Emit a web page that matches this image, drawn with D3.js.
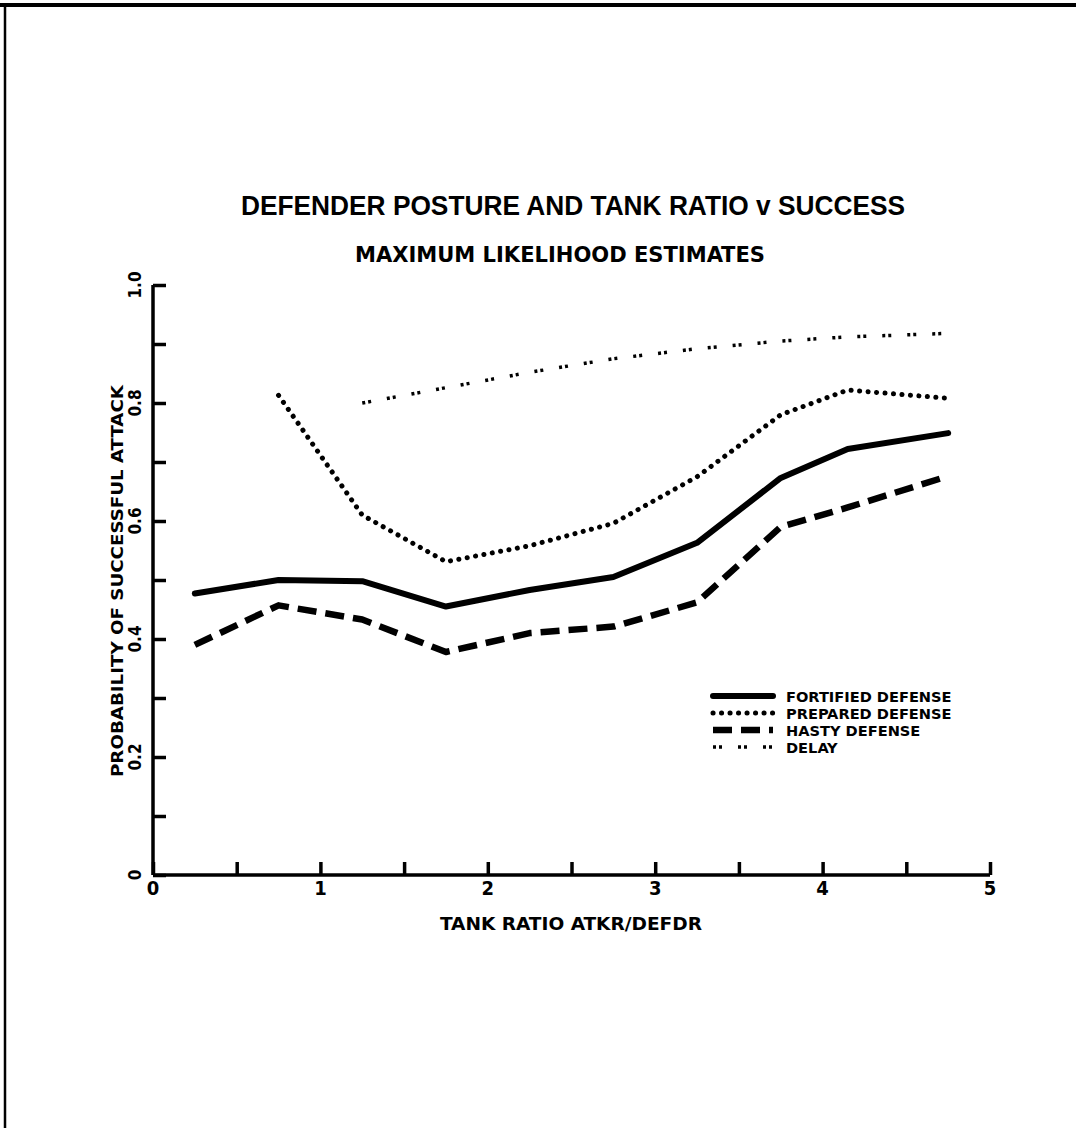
<!DOCTYPE html>
<html>
<head>
<meta charset="utf-8">
<script src="https://cdn.jsdelivr.net/npm/d3@7"></script>
<style>
  body { margin: 0; background: #fff; }
  text { fill: #000; }
</style>
</head>
<body>
<svg id="chart" width="1076" height="1128"></svg>
<script>
// x positions of the estimates (tank ratio groups)
var ratios = [0.25, 0.75, 1.25, 1.75, 2.25, 2.75, 3.25, 3.75, 4.15, 4.75];

// probability of successful attack, one array per defender posture
var fortified = [0.477, 0.500, 0.498, 0.455, 0.483, 0.505, 0.563, 0.673, 0.722, 0.749];
var prepared  = [null, 0.813, 0.610, 0.531, 0.558, 0.596, 0.675, 0.780, 0.822, 0.808];
var hasty     = [0.390, 0.457, 0.433, 0.378, 0.410, 0.421, 0.462, 0.590, 0.623, 0.676];
var delay     = [null, null, 0.800, 0.826, 0.852, 0.875, 0.892, 0.905, 0.912, 0.918];

var xTicks = [0, 1, 2, 3, 4, 5];
var yTicks = [0, 0.2, 0.4, 0.6, 0.8, 1.0];
var yTickLabels = ["0", "0.2", "0.4", "0.6", "0.8", "1.0"];

var seriesNames = ["FORTIFIED DEFENSE", "PREPARED DEFENSE", "HASTY DEFENSE", "DELAY"];

var svg = d3.select("#chart");

var x = d3.scaleLinear().domain([0, 5]).range([153, 990]);
var y = d3.scaleLinear().domain([0, 1]).range([875, 285]);

var condensed = "'DejaVu Sans Condensed', 'Liberation Sans Narrow', 'DejaVu Sans', sans-serif";

// page frame (top and left edge of the scanned sheet)
svg.append("line").attr("x1", 0).attr("x2", 1076).attr("y1", 5).attr("y2", 5)
    .attr("stroke", "#000").attr("stroke-width", 4);
svg.append("line").attr("x1", 5).attr("x2", 5).attr("y1", 5).attr("y2", 1128)
    .attr("stroke", "#000").attr("stroke-width", 2.5);

// titles
svg.append("text")
    .attr("x", 573).attr("y", 215)
    .attr("text-anchor", "middle")
    .attr("font-family", "'Liberation Sans', Arial, sans-serif")
    .attr("font-weight", "bold")
    .attr("font-size", 27)
    .attr("textLength", 664).attr("lengthAdjust", "spacingAndGlyphs")
    .text("DEFENDER POSTURE AND TANK RATIO v SUCCESS");

svg.append("text")
    .attr("x", 560).attr("y", 262)
    .attr("text-anchor", "middle")
    .attr("font-family", condensed)
    .attr("font-weight", "bold")
    .attr("font-size", 21)
    .attr("textLength", 410).attr("lengthAdjust", "spacingAndGlyphs")
    .text("MAXIMUM LIKELIHOOD ESTIMATES");

// axes
var xAxis = d3.axisBottom(x)
    .tickValues(d3.range(0, 5.01, 0.5))
    .tickSize(-13)
    .tickFormat("");
var yAxis = d3.axisLeft(y)
    .tickValues(d3.range(0, 1.001, 0.1))
    .tickSize(-13)
    .tickFormat("");

var gx = svg.append("g").attr("transform", "translate(0," + y(0) + ")").call(xAxis);
var gy = svg.append("g").attr("transform", "translate(" + x(0) + ",0)").call(yAxis);

[gx, gy].forEach(function(g) {
    g.select(".domain").attr("stroke", "#000").attr("stroke-width", 3.5);
    g.selectAll(".tick line").attr("stroke", "#000").attr("stroke-width", 3.5);
});
// remove the outer end caps from the domain path
gx.select(".domain").attr("d", "M" + x(0) + ",0H" + x(5));
gy.select(".domain").attr("d", "M0," + y(1) + "V" + y(0));

// tick labels
svg.append("g").selectAll("text")
    .data(xTicks).enter().append("text")
    .attr("x", function(d) { return x(d); })
    .attr("y", 895)
    .attr("text-anchor", "middle")
    .attr("font-family", condensed)
    .attr("font-weight", "bold")
    .attr("font-size", 20)
    .text(function(d) { return d; });

svg.append("g").selectAll("text")
    .data(yTicks).enter().append("text")
    .attr("transform", function(d) { return "translate(141," + y(d) + ") rotate(-90)"; })
    .attr("text-anchor", "middle")
    .attr("font-family", condensed)
    .attr("font-weight", "bold")
    .attr("font-size", 17)
    .text(function(d, i) { return yTickLabels[i]; });

// axis titles
svg.append("text")
    .attr("x", 571).attr("y", 930)
    .attr("text-anchor", "middle")
    .attr("font-family", condensed)
    .attr("font-weight", "bold")
    .attr("font-size", 17)
    .attr("textLength", 262).attr("lengthAdjust", "spacingAndGlyphs")
    .text("TANK RATIO ATKR/DEFDR");

svg.append("text")
    .attr("transform", "translate(123,581) rotate(-90)")
    .attr("text-anchor", "middle")
    .attr("font-family", condensed)
    .attr("font-weight", "bold")
    .attr("font-size", 16)
    .attr("textLength", 392).attr("lengthAdjust", "spacingAndGlyphs")
    .text("PROBABILITY OF SUCCESSFUL ATTACK");

// line styles for each posture
var styles = [
    { width: 6, dash: null, cap: "round" },
    { width: 5, dash: "0.1,8.4", cap: "round" },
    { width: 6.5, dash: "19,9", cap: "butt" },
    { width: 3.5, dash: "3,3,3,16", cap: "butt" }
];
var allSeries = [fortified, prepared, hasty, delay];

var line = d3.line()
    .defined(function(d) { return d[1] != null; })
    .x(function(d) { return x(d[0]); })
    .y(function(d) { return y(d[1]); });

allSeries.forEach(function(vals, i) {
    var pts = ratios.map(function(r, j) { return [r, vals[j]]; });
    svg.append("path")
        .datum(pts)
        .attr("fill", "none")
        .attr("stroke", "#000")
        .attr("stroke-width", styles[i].width)
        .attr("stroke-linecap", styles[i].cap)
        .attr("stroke-linejoin", "round")
        .attr("stroke-dasharray", styles[i].dash)
        .attr("d", line);
});

// legend
var legend = svg.append("g").attr("transform", "translate(713,696)");
seriesNames.forEach(function(name, i) {
    var row = legend.append("g").attr("transform", "translate(0," + (i * 17) + ")");
    row.append("line")
        .attr("x1", 0).attr("x2", 60)
        .attr("stroke", "#000")
        .attr("stroke-width", styles[i].width)
        .attr("stroke-linecap", styles[i].cap)
        .attr("stroke-dasharray", styles[i].dash);
    row.append("text")
        .attr("transform", "translate(73,5.5) scale(1.12,1)")
        .attr("font-family", condensed)
        .attr("font-weight", "bold")
        .attr("font-size", 14.5)
        .text(name);
});
</script>
</body>
</html>
